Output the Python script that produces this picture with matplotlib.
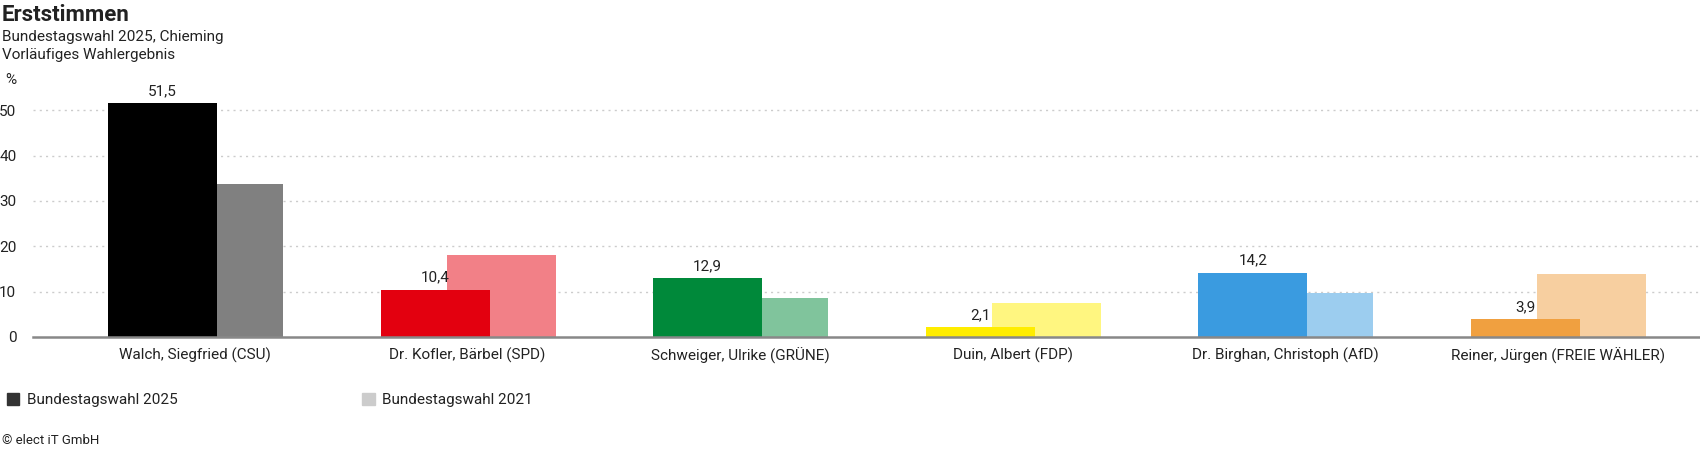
import matplotlib.pyplot as plt
from matplotlib.patches import Patch

# data
candidates = ["Walch, Siegfried (CSU)", "Dr. Kofler, Bärbel (SPD)", "Schweiger, Ulrike (GRÜNE)",
              "Duin, Albert (FDP)", "Dr. Birghan, Christoph (AfD)", "Reiner, Jürgen (FREIE WÄHLER)"]
votes_2025 = [51.5, 10.4, 12.9, 2.1, 14.2, 3.9]
votes_2021 = [33.7, 18.1, 8.7, 7.6, 9.6, 13.8]
colors_2025 = ["#000000", "#e3000f", "#00893a", "#ffed00", "#3a9be0", "#f0a040"]
colors_2021 = ["#808080", "#f28087", "#80c49c", "#fff680", "#9ccdef", "#f7cfa0"]
yticks = [0, 10, 20, 30, 40, 50]
legend_labels = ["Bundestagswahl 2025", "Bundestagswahl 2021"]

plt.rcParams['font.family'] = ['Roboto', 'DejaVu Sans']

W, H = 1700, 455
fig = plt.figure(figsize=(W / 100, H / 100), dpi=100)
ax = fig.add_axes([33 / W, (H - 337) / H, 1 - 33 / W, 254 / H])

x = range(len(candidates))
bw = 0.4
ax.bar([i + 0.123 for i in x], votes_2021, width=bw, color=colors_2021, zorder=2)
ax.bar([i - 0.119 for i in x], votes_2025, width=bw, color=colors_2025, zorder=3)

for i, v in enumerate(votes_2025):
    ax.text(i - 0.119, v + 1.2, "{:.1f}".format(v).replace(".", ","), ha="center", va="bottom",
            fontsize=11, color="#222222", zorder=4)

ax.set_xlim(-0.594, 5.521)
ax.set_ylim(0, 56)
ax.set_xticks(list(x))
ax.set_xticklabels(candidates, fontsize=11, color="#222222")
ax.set_yticks(yticks)
ax.set_yticklabels([str(t) for t in yticks], fontsize=11, color="#222222", ha="right")
ax.tick_params(axis="both", length=0)
ax.tick_params(axis="y", pad=12)
ax.tick_params(axis="x", pad=8)

for t in yticks[1:]:
    ax.axhline(t, color="#cccccc", lw=1, ls=(0, (1.5, 3)), zorder=1)

for s in ["top", "right", "left"]:
    ax.spines[s].set_visible(False)
ax.spines["bottom"].set_color("#888888")
ax.spines["bottom"].set_linewidth(1.8)
ax.spines["bottom"].set_zorder(5)

# header
fig.text(0.001, 1 - 15 / H, "Erststimmen", fontsize=16, fontweight="bold", va="center", color="#222222")
fig.text(0.001, 1 - 37 / H, "Bundestagswahl 2025, Chieming", fontsize=11, va="center", color="#222222")
fig.text(0.001, 1 - 55 / H, "Vorläufiges Wahlergebnis", fontsize=11, va="center", color="#222222")
fig.text(5 / W, 1 - 80 / H, "%", fontsize=11, va="center", color="#222222")

# legend
handles = [Patch(color="#333333"), Patch(color="#cccccc")]
fig.legend(handles, legend_labels, loc="center left", bbox_to_anchor=(-0.004, (H - 400) / H),
           ncol=2, frameon=False, handlelength=0.8, handleheight=0.8, handletextpad=0.5,
           columnspacing=12.1, fontsize=11, labelcolor="#222222")

fig.text(0.001, (H - 440) / H, "© elect iT GmbH", fontsize=9.5, va="center", color="#222222")

fig.savefig("out.png", dpi=100)
